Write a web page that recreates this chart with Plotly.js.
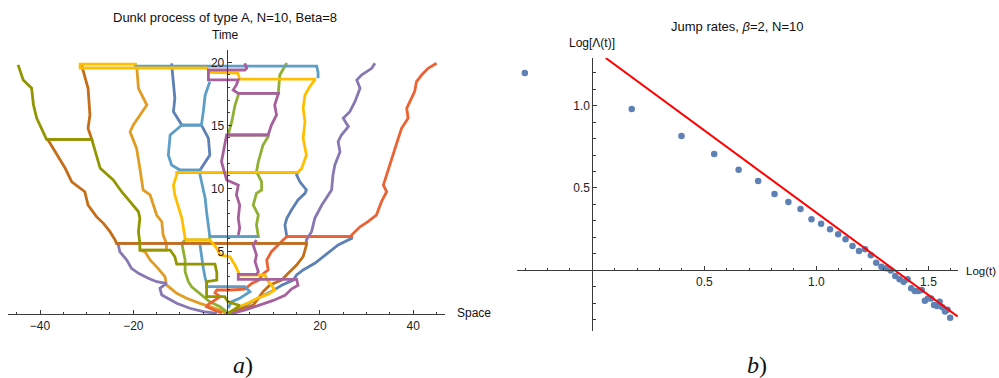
<!DOCTYPE html>
<html>
<head>
<meta charset="utf-8">
<script src="https://cdn.plot.ly/plotly-3.0.1.min.js"></script>
<style>html,body{margin:0;padding:0;background:#fff}#chart{width:999px;height:378px}</style>
</head>
<body>
<div id="chart"></div>
<script>
// ---------- Panel a: Dunkl process paths, [space, time] pairs, null = break ----------
const path1 = [[-11.8,19.92],[-11.4,18.46],[-11.1,17.14],[-11.4,16.08],[-9.6,15.02],[-5.4,15.02],[-3.9,13.97],[-3.6,12.64],[-5.0,11.85],[-5.7,11.45],[-10.0,11.45],[-10.4,11.27],[15.3,11.27],[15.0,11.06],[15.7,10.52],[17.1,9.87],[16.8,9.6],[15.3,9.07],[13.9,8.28],[12.9,7.62],[12.5,7.09],[12.9,6.29],[12.9,6.16],[26.8,6.16],[26.8,6.03],[23.9,5.5],[21.1,4.71],[18.9,4.05],[16.4,3.52],[15.0,3.12],[14.3,2.72],[11.8,2.3],[10.0,1.9],[7.5,1.4],[5.0,0.9],[2.5,0.4],[0.5,0.05]];
const path2 = [[-19.3,19.8],[-18.9,17.94],[-17.1,16.61],[-20.0,15.02],[-20.7,14.49],[-19.3,13.17],[-18.6,11.59],[-17.9,9.87],[-16.4,9.47],[-15.7,8.67],[-15.0,7.88],[-13.9,7.35],[-13.6,6.29],[-12.9,5.63],[-12.9,5.1],[-18.6,5.1],[-17.5,4.97],[-16.4,4.31],[-14.7,3.65],[-13.2,2.98],[-12.9,2.33],[-10.7,1.67],[-8.6,1.27],[-5.7,0.87],[-3.6,0.6],[-1.4,0.34],[0,0.05]];
const path3 = [[12.9,19.95],[11.4,18.99],[11.1,17.67],[11.1,17.54],[2.5,17.54],[2.5,17.4],[1.8,16.61],[1.1,15.29],[0.3,14.23],[8.9,14.23],[8.9,14.1],[7.8,13.44],[6.8,12.11],[6.4,11.32],[7.5,10.52],[7.5,9.87],[6.4,9.6],[5.7,8.67],[6.8,7.88],[6.4,7.09],[6.8,6.16],[-3.6,6.16],[-3.6,5.9],[-8.9,5.9],[-9.6,5.63],[-9.3,4.97],[-8.9,4.31],[-8.9,3.38],[-8.2,2.59],[-7.5,2.19],[-5.7,1.67],[-3.6,1.0],[-1.4,0.6],[0,0.2]];
const path4 = [[45.0,19.92],[43.2,19.52],[41.8,18.99],[40.7,18.46],[40.3,17.67],[39.6,17.14],[38.6,16.35],[38.9,15.56],[37.5,14.76],[36.8,13.97],[36.1,13.17],[35.4,12.37],[34.6,11.59],[33.9,10.79],[33.6,10.26],[34.3,9.73],[33.2,8.94],[32.1,7.88],[30.3,7.35],[28.6,6.95],[26.8,6.29],[26.8,6.16],[12.9,6.16],[12.1,5.9],[11.1,5.5],[9.6,4.97],[8.6,4.31],[8.9,3.52],[7.8,3.2],[6.8,2.7],[5.4,2.45],[3.9,2.0],[0.7,1.93],[-2.1,1.93],[-2.5,1.7],[-1.4,1.4],[-3.9,0.8],[-4.3,0.6],[-2.5,0.3],[-1.0,0.1]];
const path5 = [[31.8,19.92],[31.1,19.52],[28.9,18.99],[27.9,18.6],[28.6,17.94],[27.5,16.87],[26.4,16.08],[25.0,15.56],[26.1,14.89],[24.6,14.23],[23.9,13.7],[24.3,12.9],[23.2,11.85],[22.8,11.06],[22.5,9.87],[21.8,9.47],[20.4,8.67],[18.9,7.62],[18.2,6.56],[17.1,5.9],[17.1,5.63],[-23.6,5.63],[-23.2,5.5],[-22.9,4.97],[-21.4,4.31],[-20.4,3.65],[-18.9,3.25],[-16.8,2.86],[-15.0,2.59],[-12.9,2.46],[-14.3,2.06],[-13.9,1.53],[-10.7,0.87],[-7.9,0.48],[-5.0,0.21],[-2.1,0.08]];
const path6 = [[-31.1,19.8],[-29.7,17.94],[-29.3,15.82],[-29.7,14.76],[-28.9,13.89],[-38.6,13.89],[-38.2,13.8],[-36.4,12.64],[-34.6,11.59],[-33.2,10.52],[-30.4,9.73],[-29.7,8.67],[-27.9,7.75],[-26.4,7.22],[-25.0,6.56],[-23.9,5.9],[-23.6,5.63],[17.1,5.63],[17.1,5.5],[16.4,4.57],[15.0,3.91],[13.2,3.25],[11.8,2.72],[9.3,2.33],[7.8,1.79],[6.8,1.27],[5.7,0.74],[3.0,0.4],[1.0,0.1]];
const path7 = [[-19.6,19.95],[-19.6,19.7],[19.3,19.7],[19.6,19.2],[19.6,18.73],null,[-3.6,18.46],[-4.6,17.4],[-5.0,16.08],[-5.4,15.02],[-9.6,15.02],[-12.1,14.23],[-12.5,12.64],[-11.8,11.85],[-10.0,11.45],[-5.7,11.45],[-5.7,11.06],[-5.0,9.87],[-4.6,9.21],[-4.3,8.14],[-3.9,7.09],[-3.6,6.16],[6.8,6.16],null,[-5.7,5.5],[-5.4,4.5],[-5.0,3.65],[-4.6,2.9],[-4.3,2.5],[-4.3,2.19],[3.9,2.19],[5.0,1.79],[2.8,1.27],[1.1,1.0],[0.3,0.5]];
const path8 = [[-19.3,19.85],[-31.4,19.85],[-31.4,19.55],[-4.3,19.55],[-3.6,19.2],[2.4,19.15],[2.8,18.67],[18.9,18.67],[18.9,18.6],[17.8,18.06],[16.8,17.4],[16.4,16.35],[16.8,15.29],[16.4,13.97],[17.1,12.64],[16.1,11.59],[15.3,11.27],[-10.7,11.27],[-10.7,11.06],[-11.4,10.26],[-11.1,9.47],[-10.4,8.67],[-9.6,7.62],[-8.9,6.03],[-8.6,5.9],[-3.6,5.9],[-2.1,5.24],[-1.4,4.71],[0.7,4.57],[1.8,3.91],[2.5,3.38],[2.8,3.12],[8.2,3.12],[8.9,2.6],[9.6,2.33],[10.3,1.93],[8.9,1.6],[6.8,1.3],[4.6,0.9],[2.0,0.5],[0.5,0.1]];
const path9 = [[3.9,19.92],[4.3,19.52],[3.9,19.39],[-3.9,19.39],[-3.9,18.6],[2.5,18.6],[2.1,18.2],[1.4,17.8],[2.5,17.54],[11.1,17.54],[10.3,16.61],[10.7,15.82],[9.6,15.02],[8.9,14.23],[0,14.23],[-1.1,12.11],[0,10.66],[2.5,10.26],[2.1,9.47],[2.8,8.67],[2.5,7.62],[2.8,6.83],[2.5,6.29],null,[6.4,5.9],[5.7,5.5],[6.4,4.71],[6.1,4.18],[6.8,3.38],[6.4,3.17],[2.5,3.17],[2.5,2.78],[15.0,2.78],[15.3,2.3],[13.9,2.0],[12.5,1.5],[10.0,1.1],[7.0,0.7],[4.0,0.35],[1.0,0.05]];
const path10 = [[-44.7,19.8],[-43.6,18.6],[-41.8,17.94],[-41.4,16.61],[-40.7,15.56],[-38.9,14.23],[-38.6,13.89],[-28.9,13.89],[-27.9,12.64],[-27.1,11.59],[-24.3,10.66],[-22.5,9.73],[-20.7,8.94],[-18.9,8.14],[-18.6,7.62],[-18.9,6.56],[-18.6,5.63],[-18.6,5.1],[-12.1,5.1],[-11.1,4.57],[-10.7,3.99],[-2.5,3.99],[-2.1,3.3],[-2.1,2.72],[-4.3,2.59],[-4.3,1.4],[-0.4,1.4],[0.3,1.0],[2.8,0.7],[1.8,0.4],[0.3,0.1]];
const paths = [path1, path2, path3, path4, path5, path6, path7, path8, path9, path10];
const pathColors = ['#5E81B5','#E19C24','#8FB032','#EB6235','#8778B3','#C56E1A','#5D9EC7','#FFBF00','#A5609D','#929600'];

// ---------- Panel b: jump rates ----------
const logT = [-0.301,0.176,0.398,0.544,0.653,0.740,0.813,0.875,0.929,0.978,1.021,1.061,1.097,1.130,1.161,1.190,1.217,1.243,1.267,1.290,1.312,1.332,1.352,1.371,1.389,1.407,1.423,1.439,1.455,1.470,1.484,1.498,1.512,1.525,1.538,1.550,1.562,1.574,1.585,1.597];
const logRate = [1.199,0.980,0.816,0.707,0.611,0.543,0.464,0.415,0.372,0.310,0.283,0.249,0.219,0.188,0.148,0.117,0.128,0.091,0.046,0.022,0.012,-0.002,-0.035,-0.055,-0.069,-0.055,-0.109,-0.126,-0.126,-0.120,-0.185,-0.172,-0.172,-0.211,-0.217,-0.191,-0.225,-0.251,-0.240,-0.288];
const fitX = [0.06, 1.63];
const fitY = [1.29, -0.28];

const leftXTicks = [-40,-20,20,40];
const leftXLabels = ['\u221240','\u221220','20','40'];
const leftYTicks = [5,10,15,20];
const rightXTicks = [0.5,1,1.5];
const rightXLabels = ['0.5','1.0','1.5'];
const rightYTicks = [0.5,1];
const rightYLabels = ['0.5','1.0'];

const FONT = 'Liberation Sans, Arial, sans-serif';
const AX = '#3a3a3a';

const traces = paths.map((p, i) => ({
  type: 'scatter', mode: 'lines', xaxis: 'x', yaxis: 'y',
  x: p.map(v => v ? v[0] : null),
  y: p.map(v => v ? v[1] : null),
  connectgaps: false,
  line: {color: pathColors[i], width: 2.8},
  hoverinfo: 'skip'
}));
traces.push({
  type: 'scatter', mode: 'markers', xaxis: 'x2', yaxis: 'y2',
  x: logT, y: logRate, marker: {color: '#5E81B5', size: 6.5}, hoverinfo: 'skip'
});
traces.push({
  type: 'scatter', mode: 'lines', xaxis: 'x2', yaxis: 'y2',
  x: fitX, y: fitY, line: {color: '#FF0000', width: 2}, hoverinfo: 'skip'
});

function axis(extra) {
  return Object.assign({
    showline: true, linecolor: AX, linewidth: 1,
    ticks: 'inside', ticklen: 4, tickcolor: AX, tickwidth: 1,
    showgrid: false, zeroline: false, fixedrange: true,
    tickfont: {family: FONT, size: 12, color: '#222'}
  }, extra);
}

const layout = {
  width: 999, height: 378,
  margin: {l: 0, r: 0, t: 0, b: 0},
  paper_bgcolor: '#fff', plot_bgcolor: 'rgba(0,0,0,0)',
  showlegend: false,
  xaxis: axis({domain: [0.0083, 0.4454], range: [-46.8, 46.8], anchor: 'y',
    tickmode: 'array', tickvals: leftXTicks, ticktext: leftXLabels,
    minor: {tickmode: 'linear', tick0: 0, dtick: 5, ticks: 'inside', ticklen: 2.5, tickcolor: AX, showgrid: false}}),
  yaxis: axis({domain: [0.1685, 0.8685], range: [0, 21], anchor: 'free', position: 0.2269,
    tickmode: 'array', tickvals: leftYTicks,
    minor: {tickmode: 'linear', tick0: 0, dtick: 1, ticks: 'inside', ticklen: 2.5, tickcolor: AX, showgrid: false}}),
  xaxis2: axis({domain: [0.5175, 0.959], range: [-0.336, 1.632], anchor: 'free', position: 0.2849,
    tickmode: 'array', tickvals: rightXTicks, ticktext: rightXLabels,
    minor: {tickmode: 'linear', tick0: 0, dtick: 0.1, ticks: 'inside', ticklen: 2.5, tickcolor: AX, showgrid: false}}),
  yaxis2: axis({domain: [0.1243, 0.8466], range: [-0.369, 1.29], anchor: 'free', position: 0.5929,
    tickmode: 'array', tickvals: rightYTicks, ticktext: rightYLabels,
    minor: {tickmode: 'linear', tick0: 0, dtick: 0.1, ticks: 'inside', ticklen: 2.5, tickcolor: AX, showgrid: false}}),
  annotations: [
    {text: 'Dunkl process of type A, N=10, Beta=8', x: 0.2252, y: 0.955, xref: 'paper', yref: 'paper', showarrow: false, xanchor: 'center', yanchor: 'middle', font: {family: FONT, size: 13, color: '#111'}},
    {text: 'Time', x: 0.2262, y: 0.9087, xref: 'paper', yref: 'paper', showarrow: false, xanchor: 'center', yanchor: 'middle', font: {family: FONT, size: 12, color: '#111'}},
    {text: 'Space', x: 0.4555, y: 0.1712, xref: 'paper', yref: 'paper', showarrow: false, xanchor: 'left', yanchor: 'middle', font: {family: FONT, size: 12, color: '#111'}},
    {text: '<i>a</i>)', x: 0.2432, y: 0.0344, xref: 'paper', yref: 'paper', showarrow: false, xanchor: 'center', yanchor: 'middle', font: {family: 'Liberation Serif, serif', size: 24, color: '#111'}},
    {text: 'Jump rates, <i>\u03b2</i>=2, N=10', x: 0.7377, y: 0.9286, xref: 'paper', yref: 'paper', showarrow: false, xanchor: 'center', yanchor: 'middle', font: {family: FONT, size: 13, color: '#111'}},
    {text: 'Log[\u039b(t)]', x: 0.5926, y: 0.8854, xref: 'paper', yref: 'paper', showarrow: false, xanchor: 'center', yanchor: 'middle', font: {family: FONT, size: 12, color: '#111'}},
    {text: 'Log(t)', x: 0.9975, y: 0.2839, xref: 'paper', yref: 'paper', showarrow: false, xanchor: 'right', yanchor: 'middle', borderpad: 0, font: {family: FONT, size: 11.5, color: '#111'}},
    {text: '<i>b</i>)', x: 0.7578, y: 0.0344, xref: 'paper', yref: 'paper', showarrow: false, xanchor: 'center', yanchor: 'middle', font: {family: 'Liberation Serif, serif', size: 24, color: '#111'}}
  ]
};

Plotly.newPlot('chart', traces, layout, {staticPlot: true, displayModeBar: false});
</script>
</body>
</html>
